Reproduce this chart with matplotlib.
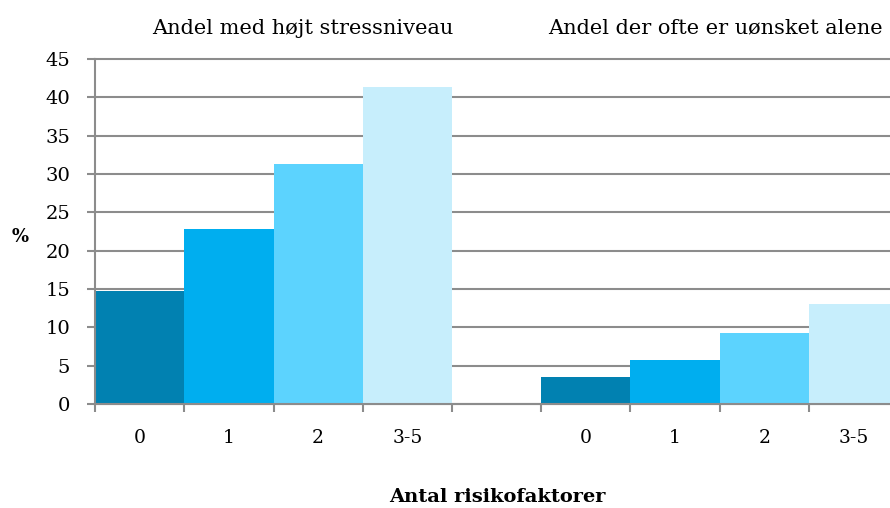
import matplotlib.pyplot as plt
import numpy as np

# data
categories = ['0', '1', '2', '3-5']
group_titles = ['Andel med højt stressniveau', 'Andel der ofte er uønsket alene']
stress = [14.8, 22.8, 31.3, 41.3]
alone = [3.5, 5.8, 9.2, 13.0]
colors = ['#0181B1', '#00AEEF', '#5CD3FE', '#C7EEFC']

plt.rcParams['font.family'] = ['DejaVu Serif']
grey = '#8C8C8C'

fig = plt.figure(figsize=(8.9, 5.08), dpi=100)
ax = fig.add_axes([95 / 890, 104 / 508, 795 / 890, 345 / 508])

slot = np.arange(len(categories))
for start, vals in [(0, stress), (5, alone)]:
    ax.bar(start + slot + 0.5, vals, width=1.0, color=colors, zorder=2)

ax.set_xlim(0, 795 / 89.25)
ax.set_ylim(0, 45)
ax.set_yticks(np.arange(0, 50, 5))
ax.yaxis.grid(True, color=grey, linewidth=1.5, zorder=0)
ax.set_axisbelow(True)
for gl in ax.get_ygridlines():
    gl.set_clip_on(False)

# category labels at bar centres, tick marks at bar edges
centres = np.concatenate([slot + 0.5, slot + 5.5])
ax.set_xticks(centres)
ax.set_xticklabels(categories * 2)
ax.set_xticks(np.arange(0, 9), minor=True)
ax.tick_params(axis='x', which='major', length=0, pad=18, labelsize=13.5)
ax.tick_params(axis='x', which='minor', length=6, width=1.5, color=grey)
ax.tick_params(axis='y', length=6, width=1.5, color=grey, labelsize=14, pad=12)

for s in ['top', 'right']:
    ax.spines[s].set_visible(False)
for s in ['left', 'bottom']:
    ax.spines[s].set_color(grey)
    ax.spines[s].set_linewidth(1.5)
ax.spines['left'].set_zorder(3)
ax.spines['bottom'].set_zorder(3)

# group titles
ax.text(2.33, 49.0, group_titles[0], ha='center', va='center', fontsize=15)
ax.text(6.95, 49.0, group_titles[1], ha='center', va='center', fontsize=15)

fig.text(20 / 890, 1 - 237 / 508, '%', ha='center', va='center',
         fontsize=13, fontweight='bold')
fig.text(497 / 890, 1 - 497 / 508, 'Antal risikofaktorer', ha='center',
         va='center', fontsize=14, fontweight='bold')

fig.savefig('out.png', dpi=100)
